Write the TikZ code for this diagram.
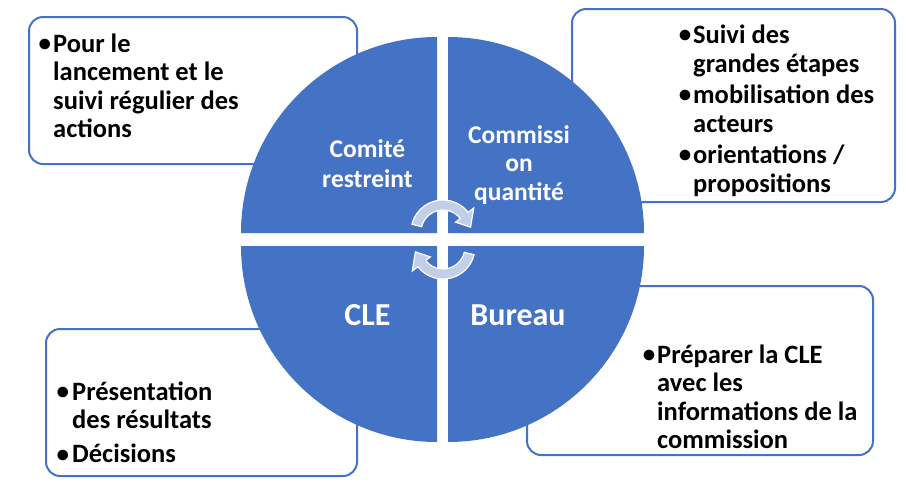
\documentclass[tikz,border=0pt]{standalone}
\usepackage{fontspec}
\setmainfont{Carlito}
\definecolor{qblue}{HTML}{4472C4}
\definecolor{arrfill}{HTML}{C3CEE9}
\newcommand{\bul}[1][2pt]{\leavevmode\llap{\raisebox{0.5pt}{\fontsize{25}{25}\selectfont•}\hspace{#1}}}
\begin{document}
\begin{tikzpicture}[x=1pt,y=-1pt,
  infobox/.style={draw=qblue, line width=2pt, fill=white, rounded corners=14pt},
  quad/.style={fill=qblue},
  boxtext/.style={anchor=base west, inner sep=0pt, font=\bfseries\fontsize{26.5}{28.5}\selectfont},
  quadtext/.style={anchor=base, inner sep=0pt, text=white},
  cyc/.style={fill=arrfill, draw=white, line width=1.2pt}]
\useasboundingbox (0,0) rectangle (906,483);
\fill[white] (0,0) rectangle (906,483);
% boxes
\draw[infobox] (29,17) rectangle (357,164);
\draw[infobox] (572,9) rectangle (895,202);
\draw[infobox] (46,329) rectangle (357,476);
\draw[infobox] (527,286) rectangle (873,455);
% quadrants
\fill[quad] (437,233) -- ++(-196,0) arc[start angle=180, end angle=270, radius=196] -- cycle;
\fill[quad] (448,233) -- ++(196,0) arc[start angle=0, end angle=-90, radius=196] -- cycle;
\fill[quad] (437,246) -- ++(-196,0) arc[start angle=180, end angle=90, radius=196] -- cycle;
\fill[quad] (448,246) -- ++(196,0) arc[start angle=0, end angle=90, radius=196] -- cycle;
% box texts
\node[boxtext] (tltext) at (53,52) {\parbox[t]{300pt}{\raggedright\bul Pour le\\lancement et le\\suivi régulier des\\actions}};
\node[boxtext, font=\bfseries\fontsize{26.5}{29}\selectfont] (trtext) at (693,43) {\parbox[t]{300pt}{\raggedright\bul Suivi des\\grandes étapes\\[2pt]\bul mobilisation des\\acteurs\\[2pt]\bul orientations /\\propositions}};
\node[boxtext] (bltext) at (72,400) {\parbox[t]{300pt}{\raggedright\bul[3pt]Présentation\\des résultats\\[5.5pt]\bul[3pt]Décisions}};
\node[boxtext] (brtext) at (657,363) {\parbox[t]{300pt}{\raggedright\bul Préparer la CLE\\avec les\\informations de la\\commission}};
% quadrant labels
\node[quadtext, font=\bfseries\fontsize{25.5}{30}\selectfont] (comite) at (367.5,157) {\parbox[t]{150pt}{\centering Comité\\restreint}};
\node[quadtext, font=\bfseries\fontsize{25.5}{28.5}\selectfont] (commission) at (519,143) {\parbox[t]{150pt}{\centering Commissi\\on\\quantité}};
\node[quadtext, font=\bfseries\fontsize{32}{32}\selectfont] (cle) at (367.5,325) {CLE};
\node[quadtext, font=\bfseries\fontsize{32}{32}\selectfont] (bureau) at (518,325) {Bureau};
% cycle arrows
\begin{scope}[shift={(443,232)}]
\filldraw[cyc] (-166:32) arc[start angle=-166, end angle=-38, radius=32] -- (-38:39) -- (-10:28) -- (-38:16) -- (-38:22) arc[start angle=-38, end angle=-166, radius=22] -- cycle;
\end{scope}
\begin{scope}[shift={(443,247)}, rotate=180]
\filldraw[cyc] (-166:32) arc[start angle=-166, end angle=-38, radius=32] -- (-38:39) -- (-10:28) -- (-38:16) -- (-38:22) arc[start angle=-38, end angle=-166, radius=22] -- cycle;
\end{scope}
\end{tikzpicture}
\end{document}
